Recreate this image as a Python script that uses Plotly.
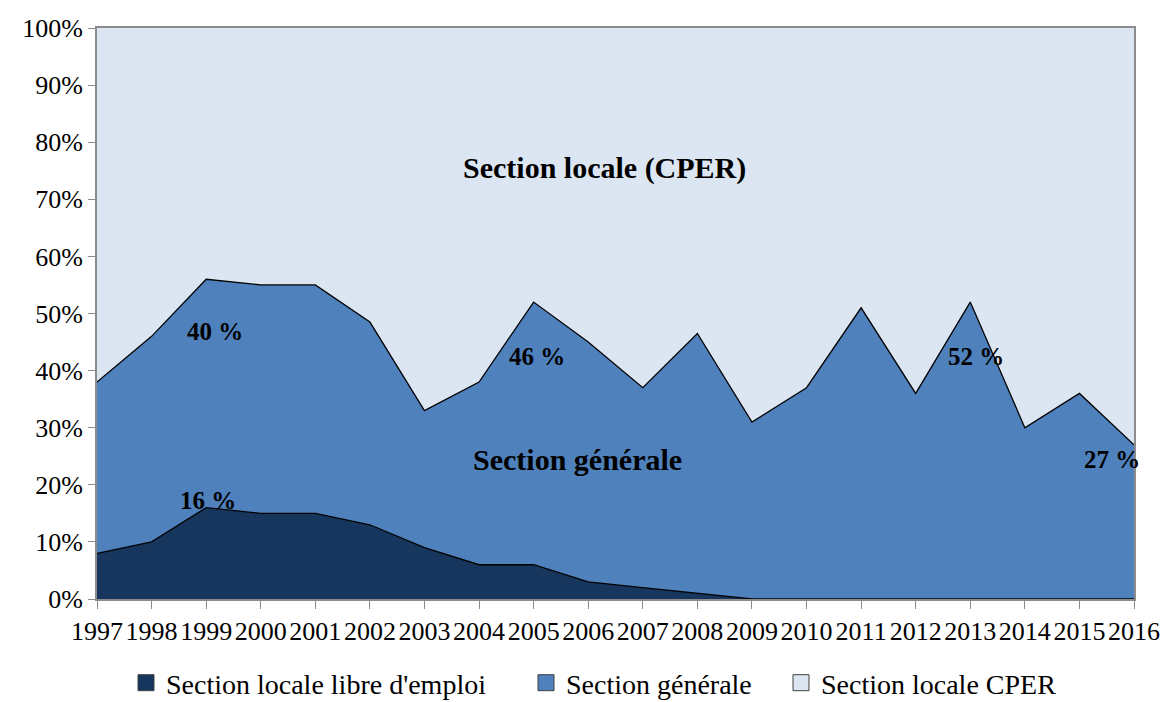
import plotly.graph_objects as go

years = list(range(1997, 2017))
libre_emploi = [8, 10, 16, 15, 15, 13, 9, 6, 6, 3, 2, 1, 0, 0, 0, 0, 0, 0, 0, 0]
generale = [30, 36, 40, 40, 40, 35.5, 24, 32, 46, 42, 35, 45.5, 31, 37, 51, 36, 52, 30, 36, 27]
cper = [100 - a - b for a, b in zip(libre_emploi, generale)]

series_names = ["Section locale libre d'emploi", "Section générale", "Section locale CPER"]
colors = ["#17365D", "#4F81BD", "#DCE6F2"]

FONT = "Liberation Serif"

fig = go.Figure()
for name, vals, col, lw in zip(series_names, [libre_emploi, generale, cper], colors, [1.3, 1.3, 0]):
    fig.add_trace(go.Scatter(
        x=years, y=vals, name=name, mode="lines", stackgroup="one",
        line=dict(color="black" if lw else col, width=lw),
        fillcolor=col, showlegend=False,
    ))
# legend entries with square swatches, one legend each for exact spacing
legend_ids = ["legend", "legend2", "legend3"]
for name, col, lid in zip(series_names, colors, legend_ids):
    fig.add_trace(go.Scatter(x=[None], y=[None], name=name, mode="markers", legend=lid,
                             marker=dict(symbol="square", size=16, color=col,
                                         line=dict(color="#404040", width=1))))

# value labels
cum_gen = [a + b for a, b in zip(libre_emploi, generale)]
labels = [
    (1999.16, cum_gen[2] - 9.2, f"{generale[2]:g} %"),
    (2005.06, cum_gen[8] - 9.6, f"{generale[8]:g} %"),
    (2013.1, cum_gen[16] - 9.6, f"{generale[16]:g} %"),
    (2015.6, cum_gen[19] - 2.5, f"{generale[19]:g} %"),
    (1999.03, libre_emploi[2] + 1.3, f"{libre_emploi[2]:g} %"),
]
for x, y, t in labels:
    fig.add_annotation(x=x, y=y, text=f"<b>{t}</b>", showarrow=False,
                       font=dict(family=FONT, size=25, color="black"))

fig.add_annotation(x=2006.3, y=75.5, text="<b>Section locale (CPER)</b>", showarrow=False,
                   font=dict(family=FONT, size=30, color="black"))
fig.add_annotation(x=2005.8, y=24.5, text="<b>Section générale</b>", showarrow=False,
                   font=dict(family=FONT, size=30, color="black"))

W, H = 1164, 702
leg_common = dict(orientation="h", xref="container", yref="container", xanchor="left",
                  y=19 / H, yanchor="middle", bgcolor="rgba(0,0,0,0)",
                  font=dict(family=FONT, size=28, color="black"), itemwidth=30)
fig.update_layout(
    width=W, height=H,
    margin=dict(l=97, r=30, t=28, b=103),
    paper_bgcolor="white", plot_bgcolor="white",
    font=dict(family=FONT, size=24, color="black"),
    showlegend=True,
    legend=dict(x=126 / W, **leg_common),
    legend2=dict(x=526 / W, **leg_common),
    legend3=dict(x=781 / W, **leg_common),
    xaxis=dict(range=[1997, 2016], tickvals=years, ticktext=[str(y) for y in years],
               showgrid=False, zeroline=False, showline=True, mirror=True, automargin=False,
               linecolor="#8c8c8c", linewidth=2, ticks="outside", ticklen=8,
               tickcolor="#8c8c8c", tickwidth=1, tickfont=dict(family=FONT, size=26)),
    yaxis=dict(range=[0, 100], dtick=10, ticksuffix="%", showgrid=False, zeroline=False,
               showline=True, mirror=True, linecolor="#8c8c8c", linewidth=2, automargin=False,
               ticks="outside", ticklen=7, tickcolor="#8c8c8c", tickwidth=1,
               tickfont=dict(family=FONT, size=26)),
)

fig.write_html("out.html", config={"displayModeBar": False},
               post_script="document.body.style.margin='0';document.body.style.overflow='hidden';")
